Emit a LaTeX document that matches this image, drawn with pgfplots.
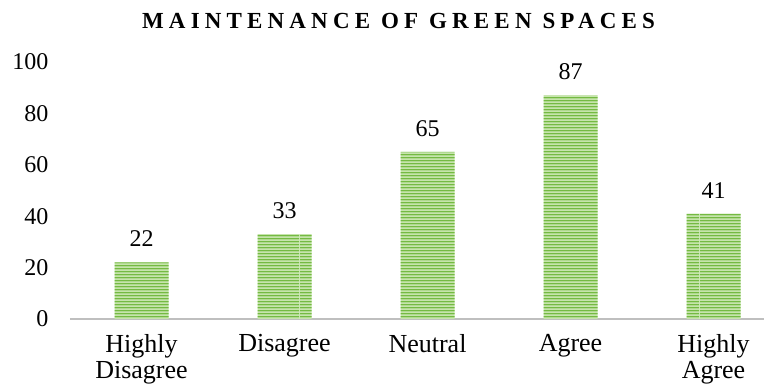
\documentclass[border=0pt]{standalone}
\usepackage{fontspec}
\setmainfont{Liberation Serif}
\usepackage{pgfplots}
\pgfplotsset{compat=1.18}
\usetikzlibrary{patterns}

\definecolor{barlight}{RGB}{210,235,188}
\definecolor{bardark}{RGB}{116,186,66}
\definecolor{axisgray}{RGB}{191,191,191}

% wide horizontal stripe tile, 3.4pt period
\pgfdeclarepatternformonly{hstripes}{\pgfpointorigin}{\pgfqpoint{100pt}{3.4pt}}{\pgfqpoint{100pt}{3.4pt}}%
{\pgfsetlinewidth{1.7pt}\pgfpathmoveto{\pgfqpoint{0pt}{1.7pt}}\pgfpathlineto{\pgfqpoint{100pt}{1.7pt}}\pgfusepath{stroke}}

\begin{document}
\begin{tikzpicture}
\begin{axis}[
  scale only axis,
  width=694pt, height=257pt,
  xmin=-0.5, xmax=4.353,
  ymin=0, ymax=100,
  ytick={0,20,40,60,80,100},
  xtick=data,
  xticklabels={{Highly\\Disagree},{Disagree},{Neutral},{Agree},{Highly\\Agree}},
  x tick label style={align=center, font=\fontsize{26}{25.5}\selectfont, yshift=-12pt},
  y tick label style={font=\fontsize{24}{28}\selectfont, xshift=-18pt},
  /pgf/number format/assume math mode=true,
  major tick length=0pt,
  axis x line*=bottom,
  axis y line*=left,
  x axis line style={-, draw=axisgray, line width=2.5pt},
  y axis line style={draw=none},
  ybar, bar width=54pt,
  nodes near coords,
  every node near coord/.append style={font=\fontsize{24}{28}\selectfont, black, yshift=12pt},
  clip=false,
]
\addplot[draw=none, fill=barlight,
  postaction={pattern=hstripes, pattern color=bardark}]
  coordinates {(0,22) (1,33) (2,65) (3,87) (4,41)};
\end{axis}
\node[anchor=base, font=\fontsize{23}{27}\selectfont\bfseries\addfontfeatures{LetterSpace=22.5}]
  at (328.5pt,290pt) {MAINTENANCE OF GREEN SPACES};
\pgfresetboundingbox
\path[use as bounding box] (-70pt,-66pt) rectangle (694pt,319pt);
\end{tikzpicture}
\end{document}
